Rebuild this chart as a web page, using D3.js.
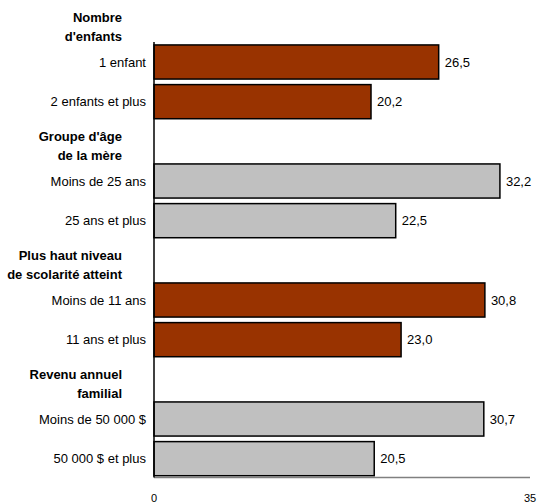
<!DOCTYPE html>
<html>
<head>
<meta charset="utf-8">
<script src="https://cdn.jsdelivr.net/npm/d3@7"></script>
<style>
  html, body { margin: 0; padding: 0; background: #ffffff; }
  svg { display: block; }
  text { font-family: "Liberation Sans", Arial, sans-serif; fill: #000; }
</style>
</head>
<body>
<svg id="chart" width="538" height="504"></svg>
<script>
// Group headings (two lines each)
const groupTitles = [
  ["Nombre", "d'enfants"],
  ["Groupe d'âge", "de la mère"],
  ["Plus haut niveau", "de scolarité atteint"],
  ["Revenu annuel", "familial"]
];
// Category labels, two per group
const categories = [
  ["1 enfant", "2 enfants et plus"],
  ["Moins de 25 ans", "25 ans et plus"],
  ["Moins de 11 ans", "11 ans et plus"],
  ["Moins de 50 000 $", "50 000 $ et plus"]
];
// Percentages, two per group
const values = [
  [26.5, 20.2],
  [32.2, 22.5],
  [30.8, 23.0],
  [30.7, 20.5]
];
const groupColors = ["#993300", "#C0C0C0", "#993300", "#C0C0C0"];
const xTicks = [0, 35];

const svg = d3.select("#chart");
const fmt = v => d3.format(".1f")(v).replace(".", ",");

// One row per heading, then one row per bar
const rows = [];
groupTitles.forEach((t, g) => {
  rows.push({ key: "h" + g, type: "head", g });
  categories[g].forEach((c, i) => rows.push({ key: g + "-" + i, type: "bar", g, label: c, value: values[g][i] }));
});

const x = d3.scaleLinear().domain([0, 35]).range([154, 530]);
const y = d3.scaleBand()
  .domain(rows.map(r => r.key))
  .range([2.5, 478.5])
  .paddingInner(0.14)
  .paddingOuter(0.07);

const bars = rows.filter(r => r.type === "bar");
const heads = rows.filter(r => r.type === "head");

// Bars
svg.append("g").selectAll("rect")
  .data(bars)
  .join("rect")
  .attr("x", x(0))
  .attr("y", d => y(d.key))
  .attr("width", d => x(d.value) - x(0))
  .attr("height", y.bandwidth())
  .attr("fill", d => groupColors[d.g])
  .attr("stroke", "#000")
  .attr("stroke-width", 1.5);

// Value labels
svg.append("g").selectAll("text")
  .data(bars)
  .join("text")
  .attr("x", d => x(d.value) + 6)
  .attr("y", d => y(d.key) + y.bandwidth() / 2)
  .attr("dy", "0.35em")
  .attr("font-size", 13)
  .text(d => fmt(d.value));

// Category labels
svg.append("g").selectAll("text")
  .data(bars)
  .join("text")
  .attr("x", 146)
  .attr("y", d => y(d.key) + y.bandwidth() / 2)
  .attr("dy", "0.35em")
  .attr("text-anchor", "end")
  .attr("font-size", 13)
  .text(d => d.label);

// Group headings
const hg = svg.append("g").selectAll("text")
  .data(heads)
  .join("text")
  .attr("text-anchor", "end")
  .attr("font-size", 13)
  .attr("font-weight", "bold");
hg.each(function (d) {
  const cy = y(d.key) + y.bandwidth() / 2 + 4.5;
  const t = d3.select(this);
  groupTitles[d.g].forEach((line, i) => {
    t.append("tspan")
      .attr("x", 122)
      .attr("y", cy + (i === 0 ? -9.5 : 9.5))
      .attr("dy", "0.35em")
      .text(line);
  });
});

// Baseline along the value axis
svg.append("line")
  .attr("x1", x(0)).attr("x2", x(35))
  .attr("y1", 477.5).attr("y2", 477.5)
  .attr("stroke", "#808080")
  .attr("stroke-width", 1.5);

// Category axis line
svg.append("line")
  .attr("x1", x(0)).attr("x2", x(0))
  .attr("y1", 42).attr("y2", 477.5)
  .attr("stroke", "#000")
  .attr("stroke-width", 1.5);

// Value axis tick labels
svg.append("g").selectAll("text")
  .data(xTicks)
  .join("text")
  .attr("x", d => x(d))
  .attr("y", 502)
  .attr("text-anchor", "middle")
  .attr("font-size", 11)
  .text(d => d);
</script>
</body>
</html>
